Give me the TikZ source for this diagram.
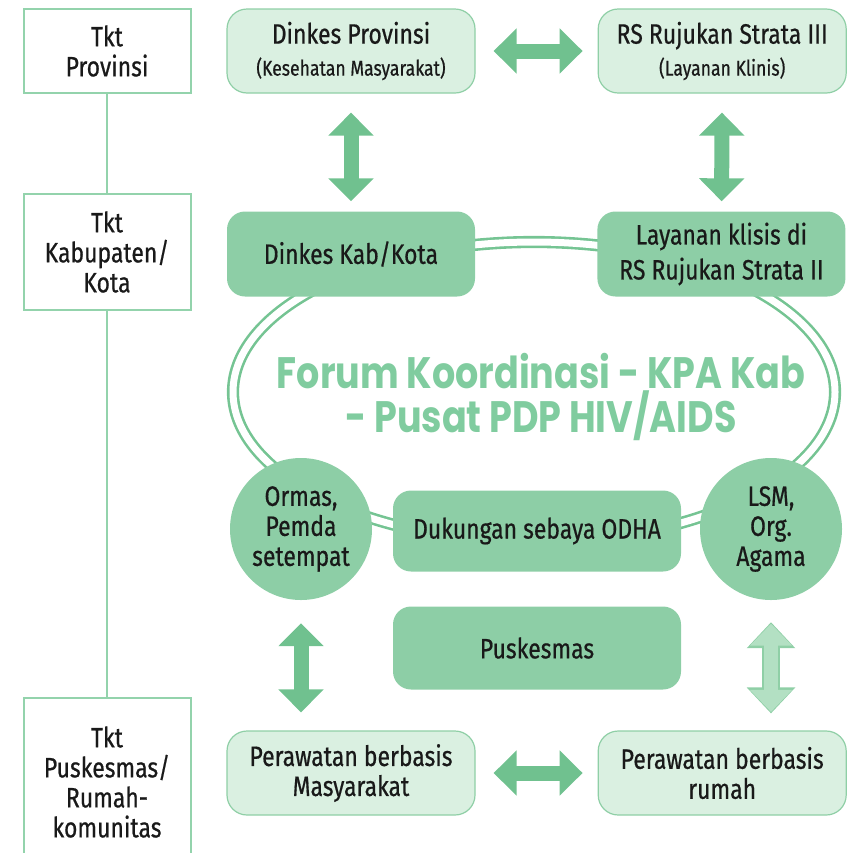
\documentclass[tikz,border=0pt]{standalone}
\usepackage{fontspec}
\setmainfont{Fira Sans}[FakeStretch=0.82,FakeBold=0.6]
\newfontfamily\forumfont{Poppins}[FakeStretch=0.83]
\usetikzlibrary{arrows.meta,positioning}

\definecolor{lvlline}{HTML}{93D3AC}
\definecolor{lightfill}{HTML}{DAF0E1}
\definecolor{lightline}{HTML}{8FCFA6}
\definecolor{darkfill}{HTML}{8DCEA6}
\definecolor{arrowgreen}{HTML}{70C18F}
\definecolor{palegreen}{HTML}{B3E0C3}
\definecolor{ringgreen}{HTML}{75C493}
\definecolor{forumgreen}{HTML}{80CC9F}

\newcommand{\minor}[1]{{\fontsize{21.5}{23}\selectfont #1}}

\begin{document}
\begin{tikzpicture}[x=1pt,y=-1pt,
            txt/.style={align=center,text=black!90,font=\fontsize{28}{30}\selectfont},
            lvl/.style={draw=lvlline,line width=2pt,fill=white,txt,minimum width=167pt,inner sep=0pt},
            light/.style={draw=lightline,line width=1.2pt,fill=lightfill,rounded corners=20pt,txt,minimum width=248pt,minimum height=84pt,inner sep=0pt},
            dark/.style={fill=darkfill,rounded corners=18pt,txt,minimum width=248pt,minimum height=85pt,inner sep=0pt},
            blob/.style={circle,fill=darkfill,txt,minimum size=142pt,inner sep=0pt},
            forum/.style={align=center,text=forumgreen,font=\forumfont\bfseries\fontsize{44}{37}\selectfont},
            fat/.style={draw=arrowgreen,line width=15pt,>={Triangle[length=23pt,width=44pt]},<->},
            ring/.style={draw=ringgreen,line width=2.6pt,double=white,double distance=7pt}
          ]
          \useasboundingbox (0,0) rectangle (853,852);

          %levels
          \node[lvl,minimum height=84pt] (prov) at (107,51) {Tkt\\Provinsi};
          \node[lvl,minimum height=116pt] (kab) at (107,252) {Tkt\\Kabupaten/\\Kota};
          \node[lvl,minimum height=168pt] (pusk) at (107,782) {Tkt\\Puskesmas/\\Rumah-\\komunitas};
          \draw[lvlline,line width=2.5pt] (prov) -- (kab) -- (pusk);

          %forum ring
          \draw[ring] (534,392) ellipse [x radius=301,y radius=150];
          \node[forum] (forum) at (541,397) {Forum Koordinasi - KPA Kab\\- Pusat PDP HIV/AIDS};

          %boxes
          \node[light] (dp) at (351,51) {Dinkes Provinsi\\[2pt]\minor{(Kesehatan Masyarakat)}};
          \node[light,right=122pt of dp] (rs) {RS Rujukan Strata III\\[2pt]\minor{(Layanan Klinis)}};
          \node[dark] (dk) at (351,254) {Dinkes Kab/Kota};
          \node[dark,right=122pt of dk] (lk) {Layanan klisis di\\[5pt]RS Rujukan Strata II};
          \node[blob] (ormas) at (301,529) {Ormas,\\Pemda\\setempat};
          \node[blob] (lsm) at (771,529) {LSM,\\Org.\\Agama};
          \node[dark,minimum width=288pt,minimum height=81pt] (odha) at (537,531) {Dukungan sebaya ODHA};
          \node[dark,minimum width=288pt,minimum height=83pt] (pkm) at (537,648) {Puskesmas};
          \node[light] (pm) at (351,773) {Perawatan berbasis\\Masyarakat};
          \node[light,right=122pt of pm] (pr) {Perawatan berbasis\\rumah};

          %arrows
          \draw[fat,shorten <=18pt,shorten >=15pt] (dp) -- (rs);
          \draw[fat,shorten <=19pt,shorten >=10pt] (dp) -- (dk);
          \draw[fat,shorten <=19pt,shorten >=10pt] (rs) -- (lk);
          \draw[fat,shorten <=18pt,shorten >=15pt] (pm) -- (pr);
          \draw[fat,shorten <=23pt,shorten >=18pt] (ormas.south) -- (ormas.south |- pm.north);
          \draw[fat,draw=lightline,line width=18pt,>={Triangle[length=26pt,width=47pt]},shorten <=22pt,shorten >=17pt] (lsm.south) -- (lsm.south |- pr.north);
          \draw[fat,draw=palegreen,line width=14pt,>={Triangle[length=22pt,width=41pt]},shorten <=23.5pt,shorten >=18.5pt] (lsm.south) -- (lsm.south |- pr.north);
\end{tikzpicture}
\end{document}
